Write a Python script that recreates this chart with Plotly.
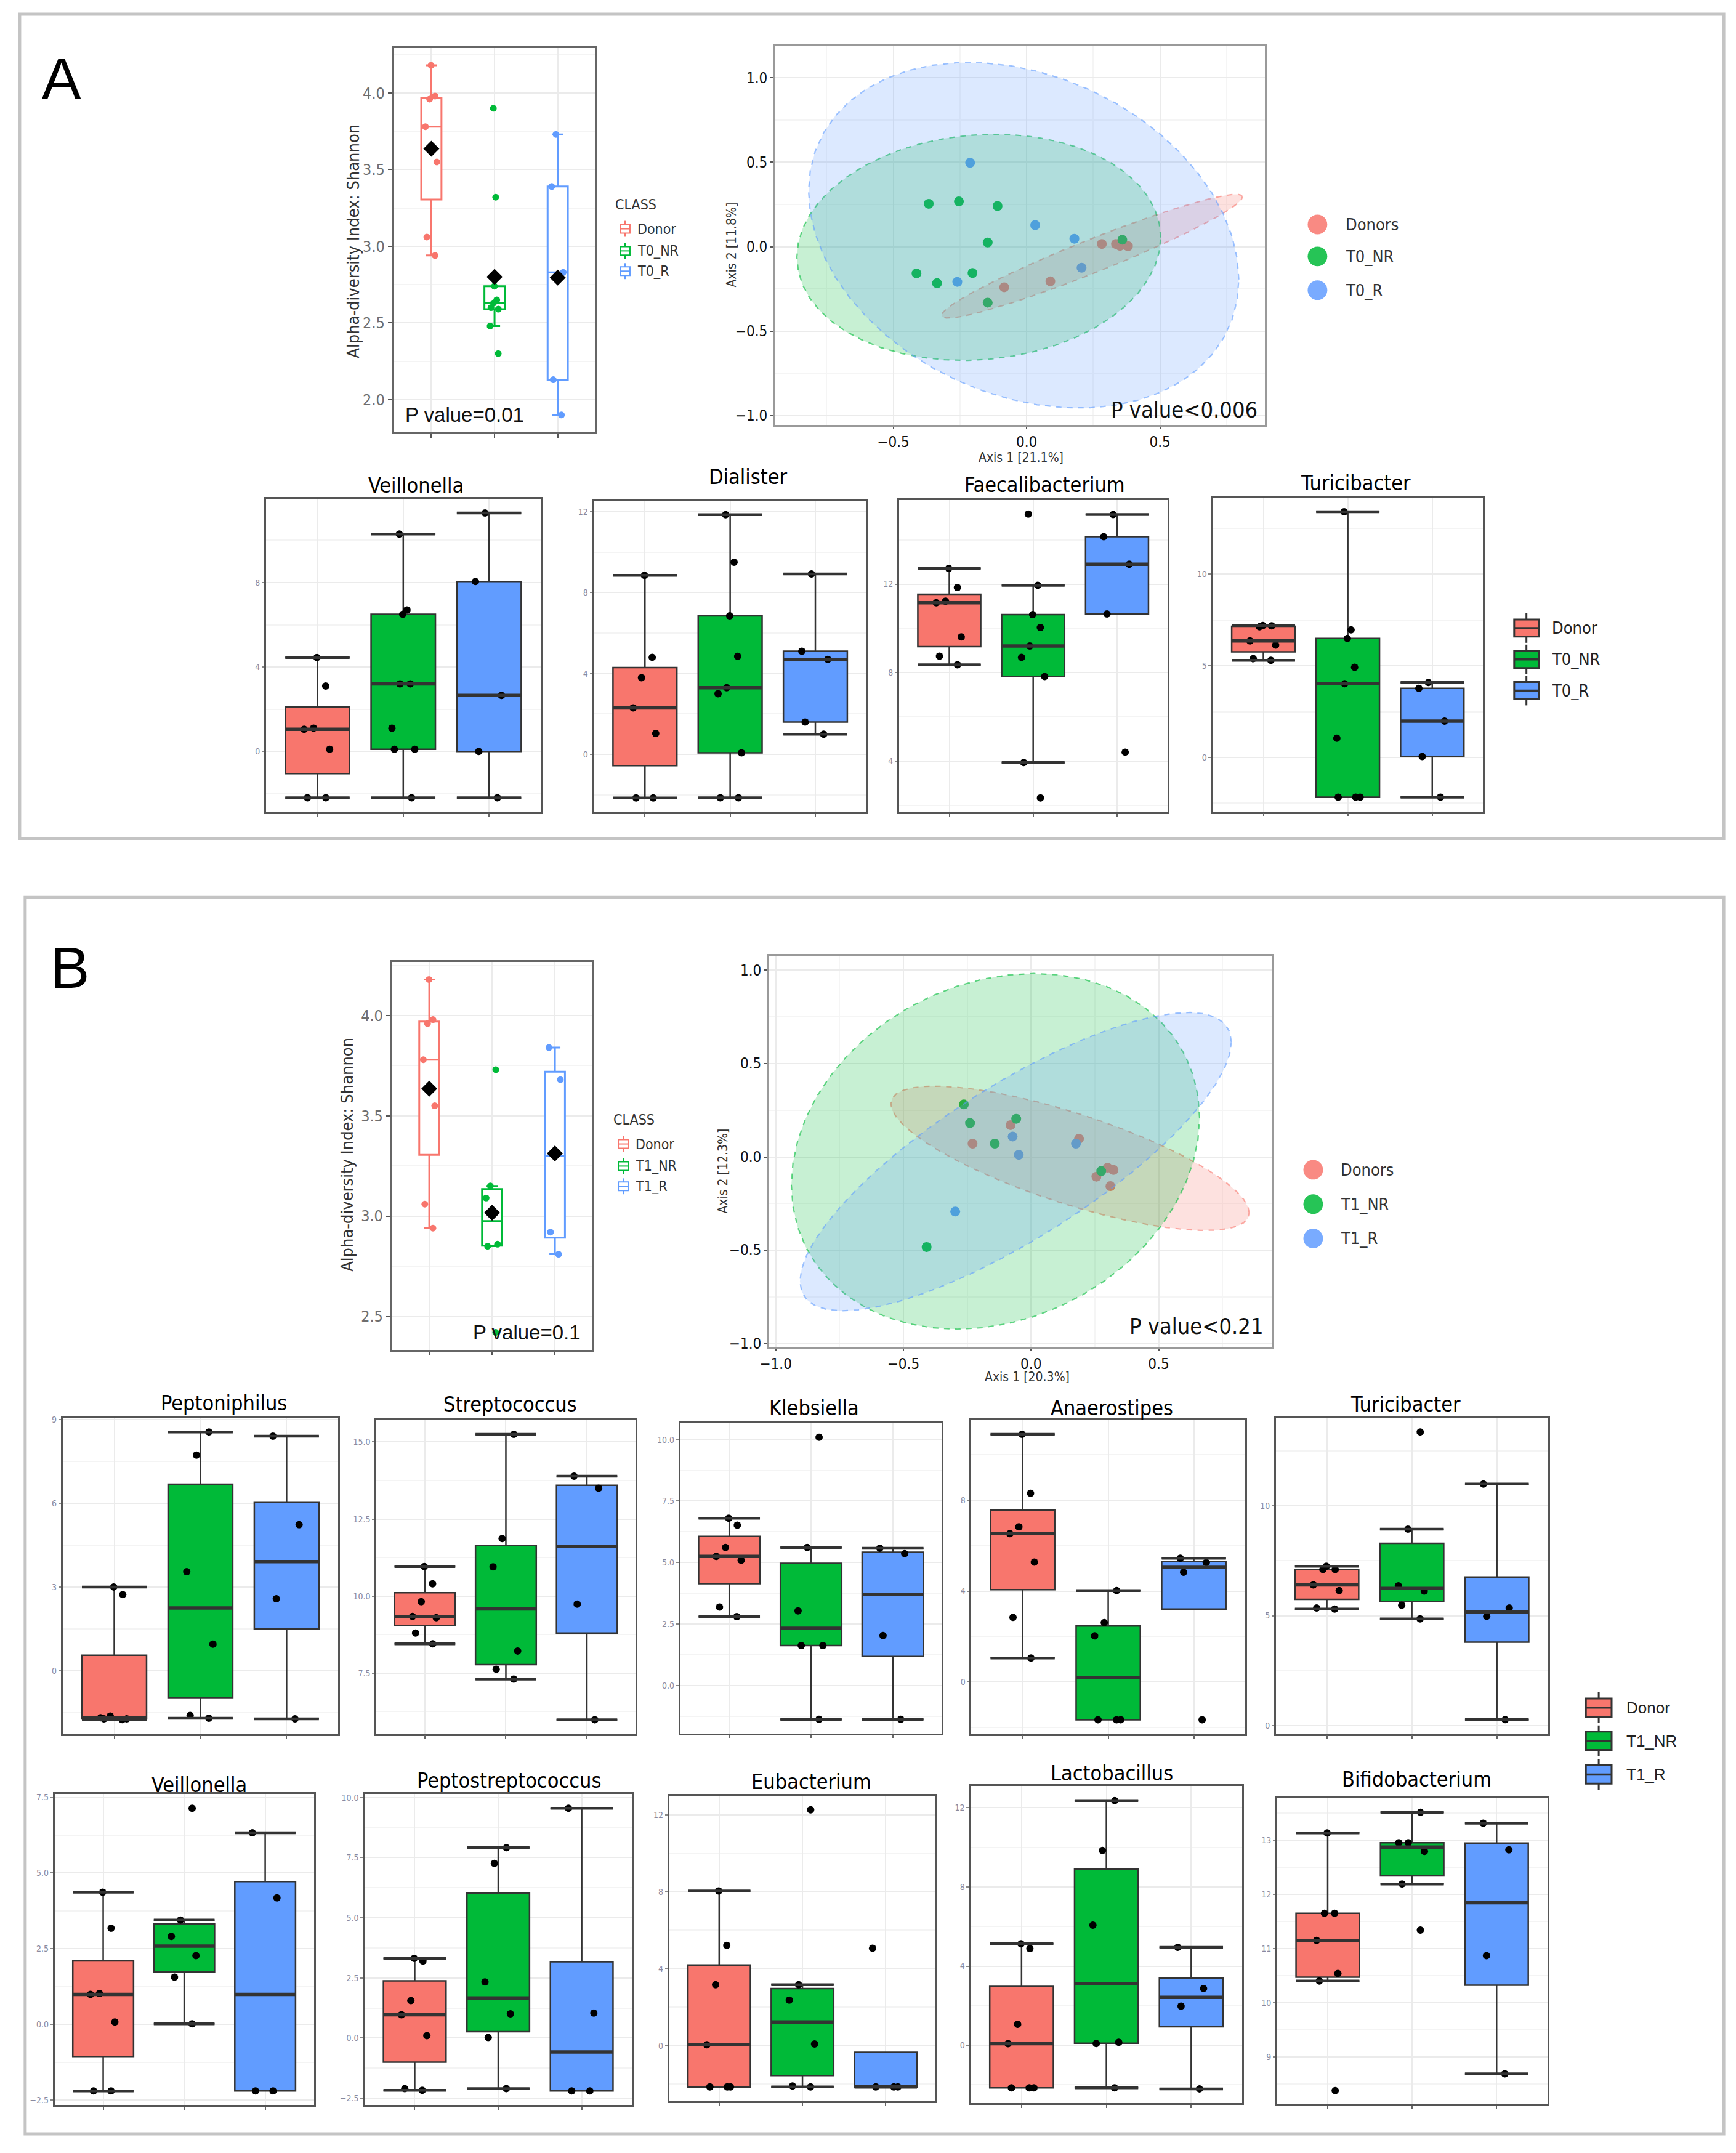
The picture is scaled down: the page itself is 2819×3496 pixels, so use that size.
import numpy as np
import plotly.graph_objects as go

W, H = 2819, 3496
FONT_N = "Liberation Sans Narrow, DejaVu Sans Condensed, Arial Narrow, sans-serif"
FONT_R = "Liberation Sans, Arial, Helvetica, sans-serif"
GROUP_COLORS = ["#F8766D", "#00BA38", "#619CFF"]
GROUP_RGB = [(248, 118, 109), (0, 186, 56), (97, 156, 255)]

# ============================ DATA ============================
groups_A = ["Donor", "T0_NR", "T0_R"]
groups_B = ["Donor", "T1_NR", "T1_R"]
pcoa_groups_A = ["Donors", "T0_NR", "T0_R"]
pcoa_groups_B = ["Donors", "T1_NR", "T1_R"]

# Shannon alpha diversity
shannon_A_donor = [4.18, 3.98, 3.96, 3.78, 3.55, 3.06, 2.94]
shannon_A_t0nr = [3.90, 3.32, 2.74, 2.65, 2.63, 2.60, 2.59, 2.48, 2.30]
shannon_A_t0r = [3.73, 3.39, 2.83, 2.13, 1.90]
shannon_B_donor = [4.18, 3.98, 3.96, 3.78, 3.55, 3.06, 2.94]
shannon_B_t1nr = [3.73, 3.15, 3.09, 2.86, 2.85, 2.42]
shannon_B_t1r = [3.84, 3.68, 2.92, 2.81]
alpha_ytitle = "Alpha-diversity Index: Shannon"
alpha_p_A = "P value=0.01"
alpha_p_B = "P value=0.1"

# PCoA coordinates
pcoa_A_axis_titles = ["Axis 1 [21.1%]", "Axis 2 [11.8%]"]
pcoa_A_donor_x = [0.282, -0.084, 0.089, 0.335, 0.350, 0.365, 0.380]
pcoa_A_donor_y = [0.016, -0.240, -0.205, 0.016, 0.005, 0.012, 0.003]
pcoa_A_t0nr_x = [-0.367, -0.254, -0.109, -0.146, -0.413, -0.336, -0.203, -0.146, 0.359]
pcoa_A_t0nr_y = [0.254, 0.268, 0.241, 0.025, -0.158, -0.216, -0.156, -0.331, 0.041]
pcoa_A_t0r_x = [-0.212, 0.032, 0.179, 0.206, -0.260]
pcoa_A_t0r_y = [0.497, 0.128, 0.047, -0.125, -0.208]
pcoa_p_A = "P value<0.006"

pcoa_B_axis_titles = ["Axis 1 [20.3%]", "Axis 2 [12.3%]"]
pcoa_B_donor_x = [-0.229, -0.080, 0.188, 0.256, 0.300, 0.323, 0.311]
pcoa_B_donor_y = [0.071, 0.170, 0.097, -0.106, -0.058, -0.070, -0.157]
pcoa_B_t1nr_x = [-0.263, -0.239, -0.058, -0.142, 0.275, -0.409]
pcoa_B_t1nr_y = [0.281, 0.181, 0.204, 0.071, -0.076, -0.483]
pcoa_B_t1r_x = [-0.072, -0.048, 0.176, -0.297]
pcoa_B_t1r_y = [0.109, 0.011, 0.071, -0.293]
pcoa_p_B = "P value<0.21"

# Genus abundance (panel A: Donor / T0_NR / T0_R)
genus_A_titles = ["Veillonella", "Dialister", "Faecalibacterium", "Turicibacter"]
veillonella_A = {"Donor": [4.45, 3.10, 1.10, 1.05, 0.10, -2.20, -2.20],
                 "T0_NR": [10.30, 6.70, 6.50, 3.20, 3.20, 1.10, 0.10, 0.10, -2.20],
                 "T0_R": [11.30, 8.05, 2.65, 0.00, -2.20]}
dialister_A = {"Donor": [8.85, 4.80, 3.79, 2.30, 1.04, -2.15, -2.15],
               "T0_NR": [11.85, 9.50, 6.85, 4.85, 3.30, 3.00, 0.08, -2.14, -2.14],
               "T0_R": [8.92, 5.10, 4.70, 1.60, 1.00]}
faecalibacterium_A = {"Donor": [12.71, 11.85, 11.23, 11.16, 9.61, 8.74, 8.35],
                      "T0_NR": [15.17, 11.95, 10.62, 10.04, 9.20, 8.69, 7.82, 3.93, 2.33],
                      "T0_R": [15.15, 14.15, 12.90, 10.65, 4.40]}
turicibacter_A = {"Donor": [7.20, 7.18, 7.13, 6.36, 6.13, 5.39, 5.30],
                  "T0_NR": [13.41, 6.96, 6.49, 4.92, 4.02, 1.05, -2.17, -2.17, -2.17],
                  "T0_R": [4.09, 3.77, 1.98, 0.05, -2.17]}
genus_A_data = [veillonella_A, dialister_A, faecalibacterium_A, turicibacter_A]

# Genus abundance (panel B: Donor / T1_NR / T1_R)
genus_B_titles = ["Peptoniphilus", "Streptococcus", "Klebsiella", "Anaerostipes", "Turicibacter",
                  "Veillonella", "Peptostreptococcus", "Eubacterium", "Lactobacillus", "Bifidobacterium"]
peptoniphilus_B = {"Donor": [3.00, 2.73, -1.62, -1.68, -1.72, -1.72, -1.75],
                   "T1_NR": [8.55, 7.72, 3.55, 0.95, -1.60, -1.70],
                   "T1_R": [8.40, 5.23, 2.58, -1.72]}
streptococcus_B = {"Donor": [10.96, 10.40, 9.82, 9.34, 9.30, 8.80, 8.45],
                   "T1_NR": [15.25, 11.87, 10.95, 8.22, 7.63, 7.31],
                   "T1_R": [13.89, 13.50, 9.74, 5.99]}
klebsiella_B = {"Donor": [6.80, 6.52, 5.61, 5.25, 5.09, 3.19, 2.80],
                "T1_NR": [10.10, 5.61, 3.03, 1.62, 1.62, -1.38],
                "T1_R": [5.58, 5.36, 2.03, -1.38]}
anaerostipes_B = {"Donor": [10.91, 8.31, 6.83, 6.53, 5.28, 2.84, 1.05],
                  "T1_NR": [4.02, 2.61, 2.03, -1.67, -1.67, -1.67],
                  "T1_R": [5.45, 5.26, 4.83, -1.67]}
turicibacter_B = {"Donor": [7.25, 7.10, 7.10, 6.40, 6.14, 5.35, 5.30],
                  "T1_NR": [13.36, 8.94, 6.36, 6.12, 5.48, 4.85],
                  "T1_R": [10.99, 5.35, 4.97, 0.27]}
veillonella_B = {"Donor": [4.37, 3.18, 1.02, 0.99, 0.08, -2.20, -2.20],
                 "T1_NR": [7.14, 3.45, 2.91, 2.27, 1.56, 0.02],
                 "T1_R": [6.33, 4.18, -2.20, -2.20]}
peptostreptococcus_B = {"Donor": [3.31, 3.20, 1.56, 0.97, 0.10, -2.10, -2.17],
                        "T1_NR": [7.91, 7.26, 2.33, 1.01, 0.02, -2.10],
                        "T1_R": [9.55, 1.04, -2.20, -2.20]}
eubacterium_B = {"Donor": [8.05, 5.22, 3.17, 0.05, -2.15, -2.15, -2.15],
                 "T1_NR": [12.27, 3.17, 2.37, 0.09, -2.10, -2.15],
                 "T1_R": [5.07, -2.15, -2.15, -2.15]}
lactobacillus_B = {"Donor": [5.13, 4.89, 1.06, 0.08, -2.15, -2.15, -2.15],
                   "T1_NR": [12.36, 9.84, 6.07, 0.15, 0.09, -2.15],
                   "T1_R": [4.95, 2.87, 1.98, -2.20]}
bifidobacterium_B = {"Donor": [13.13, 11.65, 11.65, 11.15, 10.54, 10.40, 8.38],
                     "T1_NR": [13.51, 12.95, 12.95, 12.79, 12.19, 11.34],
                     "T1_R": [13.31, 12.82, 10.87, 8.69]}
genus_B_data = [peptoniphilus_B, streptococcus_B, klebsiella_B, anaerostipes_B, turicibacter_B,
                veillonella_B, peptostreptococcus_B, eubacterium_B, lactobacillus_B, bifidobacterium_B]

# ============================ LAYOUT (pixels) ============================
genus_A_dtick = [4, 4, 4, 5]
genus_A_fmt = ["", "", "", ""]
genus_B_dtick = [3, 2.5, 2.5, 4, 5, 2.5, 2.5, 4, 4, 1]
genus_B_fmt = ["", ".1f", ".1f", "", "", ".1f", ".1f", "", "", ""]

alpha_A_frame = (628, 73, 958, 700)
alpha_B_frame = (625, 1563, 953, 2196)
pcoa_A_frame = (1250, 69, 2050, 688)
pcoa_B_frame = (1240, 1553, 2062, 2191)
genus_A_frames = [(420, 808, 868, 1319), (955, 811, 1400, 1319),
                  (1453, 810, 1891, 1319), (1965, 806, 2406, 1318)]
genus_A_tpos = [(665, 786), (1207, 772), (1691, 785), (2198, 782)]
genus_B_frames = [(88, 2306, 538, 2822), (600, 2310, 1023, 2822), (1096, 2315, 1523, 2821),
                  (1571, 2310, 2018, 2822), (2068, 2306, 2512, 2822),
                  (75, 2920, 498, 3427), (581, 2920, 1017, 3427), (1078, 2923, 1513, 3420),
                  (1570, 2907, 2013, 3424), (2070, 2927, 2511, 3426)]
genus_B_tpos = [(351, 2282), (819, 2284), (1315, 2290), (1800, 2290), (2280, 2284),
                (311, 2905), (817, 2898), (1310, 2900), (1800, 2886), (2298, 2896)]

BOXW = 0.75
ALPHA_BOXW = 0.32

fig = go.Figure()
layout_axes = {}
annotations = []
shapes = []


def PX(x):
    return x / W


def PY(y):
    return 1 - y / H


def refs(i):
    return ("x" if i == 1 else f"x{i}", "y" if i == 1 else f"y{i}",
            "xaxis" if i == 1 else f"xaxis{i}", "yaxis" if i == 1 else f"yaxis{i}")


def set_axes(i, frame, xcfg, ycfg):
    xa, ya, xk, yk = refs(i)
    x0, y0, x1, y1 = frame
    xcfg.update(domain=[PX(x0), PX(x1)], anchor=ya)
    ycfg.update(domain=[PY(y1), PY(y0)], anchor=xa)
    layout_axes[xk] = xcfg
    layout_axes[yk] = ycfg


def text(x, y, s, size, family=FONT_N, color="#000000", xanchor="center", yanchor="middle", angle=0):
    annotations.append(dict(x=PX(x), y=PY(y), xref="paper", yref="paper", text=s, showarrow=False,
                            xanchor=xanchor, yanchor=yanchor, textangle=angle,
                            font=dict(size=size, family=family, color=color)))


def rect(x0, y0, x1, y1, line_color, width, fill="rgba(0,0,0,0)"):
    shapes.append(dict(type="rect", xref="paper", yref="paper", x0=PX(x0), x1=PX(x1),
                       y0=PY(y1), y1=PY(y0), line=dict(color=line_color, width=width), fillcolor=fill))


def seg(x0, y0, x1, y1, color, width):
    shapes.append(dict(type="line", xref="paper", yref="paper", x0=PX(x0), x1=PX(x1),
                       y0=PY(y0), y1=PY(y1), line=dict(color=color, width=width)))


def box_stats(v):
    q1, med, q3 = np.percentile(v, [25, 50, 75])
    iqr = q3 - q1
    keep = v[(v >= q1 - 1.5 * iqr) & (v <= q3 + 1.5 * iqr)]
    return q1, med, q3, min(keep.min(), q1), max(keep.max(), q3)


def expanded(values, frac=0.05):
    lo, hi = float(np.min(values)), float(np.max(values))
    pad = frac * (hi - lo)
    return [lo - pad, hi + pad]


# --------------------------- genus boxplots ---------------------------
def add_genus(i, frame, title, tpos, data, groups, dtick, fmt):
    xa, ya, _, _ = refs(i)
    vals = [np.asarray(data[g], float) for g in groups]
    mx, my, cx, cy = [], [], [], []
    for k, v in enumerate(vals):
        q1, med, q3, wlo, whi = box_stats(v)
        fig.add_trace(go.Box(x=[k], q1=[q1], median=[med], q3=[q3], lowerfence=[wlo], upperfence=[whi],
                             orientation="v", width=BOXW, whiskerwidth=1.0, fillcolor=GROUP_COLORS[k],
                             line=dict(color="#333333", width=2.5), boxpoints=False,
                             xaxis=xa, yaxis=ya, hoverinfo="skip", showlegend=False))
        mx += [k - BOXW / 2, k + BOXW / 2, None]
        my += [med, med, None]
        if wlo < q1:
            cx += [k - BOXW / 2, k + BOXW / 2, None]
            cy += [wlo, wlo, None]
        if whi > q3:
            cx += [k - BOXW / 2, k + BOXW / 2, None]
            cy += [whi, whi, None]
    for k, v in enumerate(vals):
        fig.add_trace(go.Box(x=[k] * len(v), y=v, orientation="v", width=BOXW, boxpoints="all",
                             jitter=0.5, pointpos=0, fillcolor="rgba(0,0,0,0)",
                             line=dict(color="rgba(0,0,0,0)", width=0),
                             marker=dict(color="#000000", size=12),
                             xaxis=xa, yaxis=ya, hoverinfo="skip", showlegend=False))
    fig.add_trace(go.Scatter(x=cx, y=cy, mode="lines", line=dict(color="#333333", width=4.5),
                             xaxis=xa, yaxis=ya, hoverinfo="skip", showlegend=False))
    fig.add_trace(go.Scatter(x=mx, y=my, mode="lines", line=dict(color="#333333", width=5.5),
                             xaxis=xa, yaxis=ya, hoverinfo="skip", showlegend=False))
    allv = np.concatenate(vals)
    xcfg = dict(range=[-0.6, 2.6], tickvals=[0, 1, 2], showticklabels=False, ticks="outside",
                ticklen=5, tickwidth=1.5, tickcolor="#666666", showgrid=True, gridcolor="#EBEBEB",
                gridwidth=2, zeroline=False, showline=True, mirror=True, linecolor="#555555",
                linewidth=2.5, fixedrange=True)
    ycfg = dict(range=expanded(allv), tick0=0, dtick=dtick, tickformat=fmt, ticks="outside",
                ticklen=4, tickwidth=1.5, tickcolor="#888888",
                tickfont=dict(size=14, color="#8A8AA0", family=FONT_N),
                showgrid=True, gridcolor="#EBEBEB", gridwidth=2,
                minor=dict(tick0=0, dtick=dtick / 2, showgrid=True, gridcolor="#F4F4F4", gridwidth=1.5),
                zeroline=False, showline=True, mirror=True, linecolor="#555555", linewidth=2.5,
                fixedrange=True)
    set_axes(i, frame, xcfg, ycfg)
    text(tpos[0], tpos[1], title, 34, FONT_N, "#000000")


# --------------------------- alpha diversity ---------------------------
def add_alpha(i, frame, vals_list, ptext, ppos, ytitle_pos):
    xa, ya, _, _ = refs(i)
    vals = [np.asarray(v, float) for v in vals_list]
    for k, v in enumerate(vals):
        q1, med, q3, wlo, whi = box_stats(v)
        fig.add_trace(go.Box(x=[k], q1=[q1], median=[med], q3=[q3], lowerfence=[wlo], upperfence=[whi],
                             orientation="v", width=ALPHA_BOXW, whiskerwidth=0.55, fillcolor="#FFFFFF",
                             line=dict(color=GROUP_COLORS[k], width=3), boxpoints=False,
                             xaxis=xa, yaxis=ya, hoverinfo="skip", showlegend=False))
    for k, v in enumerate(vals):
        fig.add_trace(go.Box(x=[k] * len(v), y=v, orientation="v", width=ALPHA_BOXW, boxpoints="all",
                             jitter=0.7, pointpos=0, fillcolor="rgba(0,0,0,0)",
                             line=dict(color="rgba(0,0,0,0)", width=0),
                             marker=dict(color=GROUP_COLORS[k], size=11),
                             xaxis=xa, yaxis=ya, hoverinfo="skip", showlegend=False))
    fig.add_trace(go.Scatter(x=list(range(len(vals))), y=[float(np.mean(v)) for v in vals], mode="markers",
                             marker=dict(symbol="diamond", size=20, color="#000000"),
                             xaxis=xa, yaxis=ya, hoverinfo="skip", showlegend=False))
    allv = np.concatenate(vals)
    xcfg = dict(range=[-0.6, 2.6], tickvals=[0, 1, 2], showticklabels=False, ticks="outside",
                ticklen=6, tickwidth=2, tickcolor="#555555", showgrid=True, gridcolor="#EBEBEB",
                gridwidth=2, zeroline=False, showline=True, mirror=True, linecolor="#666666",
                linewidth=3, fixedrange=True)
    ycfg = dict(range=expanded(allv), tick0=0, dtick=0.5, tickformat=".1f", ticks="outside",
                ticklen=6, tickwidth=2, tickcolor="#555555",
                tickfont=dict(size=25, color="#6E6E6E", family=FONT_N),
                showgrid=True, gridcolor="#EBEBEB", gridwidth=2,
                minor=dict(tick0=0, dtick=0.25, showgrid=True, gridcolor="#F4F4F4", gridwidth=1.5),
                zeroline=False, showline=True, mirror=True, linecolor="#666666", linewidth=3,
                fixedrange=True)
    set_axes(i, frame, xcfg, ycfg)
    text(ytitle_pos[0], ytitle_pos[1], alpha_ytitle, 27, FONT_N, "#333333", angle=-90)
    text(ppos[0], ppos[1], ptext, 33, FONT_R, "#111111")


# --------------------------- PCoA ---------------------------
def ellipse(x, y, level=0.95, segments=51):
    pts = np.column_stack([x, y])
    n = len(pts)
    center = pts.mean(axis=0)
    cov = np.cov(pts.T)
    dfd = n - 1
    fq = (dfd / 2.0) * ((1 - level) ** (-2.0 / dfd) - 1)  # F(2, n-1) quantile
    radius = np.sqrt(2 * fq)
    t = np.linspace(0, 2 * np.pi, segments)
    circle = np.column_stack([np.cos(t), np.sin(t)])
    e = center + radius * circle @ np.linalg.cholesky(cov).T
    return e[:, 0], e[:, 1]


def add_pcoa(i, frame, xs, ys, axis_titles, ptext, ppos, xt_pos, yt_pos):
    xa, ya, _, _ = refs(i)
    allx, ally = [], []
    for k in range(3):
        fig.add_trace(go.Scatter(x=xs[k], y=ys[k], mode="markers",
                                 marker=dict(size=16, color=GROUP_COLORS[k]),
                                 xaxis=xa, yaxis=ya, hoverinfo="skip", showlegend=False))
        allx += list(xs[k])
        ally += list(ys[k])
    for k in range(3):
        ex, ey = ellipse(np.asarray(xs[k], float), np.asarray(ys[k], float))
        r, g, b = GROUP_RGB[k]
        fig.add_trace(go.Scatter(x=ex, y=ey, mode="lines", fill="toself",
                                 fillcolor=f"rgba({r},{g},{b},0.22)",
                                 line=dict(color=f"rgba({r},{g},{b},0.6)", width=2.2, dash="dash"),
                                 xaxis=xa, yaxis=ya, hoverinfo="skip", showlegend=False))
        allx += list(ex)
        ally += list(ey)
    common = dict(tick0=0, dtick=0.5, tickformat=".1f", ticks="outside", ticklen=4, tickwidth=2,
                  tickcolor="#555555", tickfont=dict(size=24, color="#111111", family=FONT_N),
                  showgrid=True, gridcolor="#EBEBEB", gridwidth=2,
                  minor=dict(tick0=0, dtick=0.25, showgrid=True, gridcolor="#F5F5F5", gridwidth=1.5),
                  zeroline=False, showline=True, mirror=True, linecolor="#9A9A9A", linewidth=2.5,
                  fixedrange=True)
    xcfg = dict(common, range=expanded(allx))
    ycfg = dict(common, range=expanded(ally))
    set_axes(i, frame, xcfg, ycfg)
    text(xt_pos[0], xt_pos[1], axis_titles[0], 21, FONT_N, "#333333")
    text(yt_pos[0], yt_pos[1], axis_titles[1], 21, FONT_N, "#333333", angle=-90)
    text(ppos[0], ppos[1], ptext, 36, FONT_N, "#111111", xanchor="right")


# --------------------------- legends ---------------------------
def legend_alpha(title_xy, glyph_x, text_x, rows, labels):
    text(title_xy[0], title_xy[1], "CLASS", 23, FONT_N, "#333333", xanchor="left")
    for k, (yy, lab) in enumerate(zip(rows, labels)):
        c = GROUP_COLORS[k]
        seg(glyph_x, yy - 13, glyph_x, yy + 13, c, 2)
        rect(glyph_x - 8, yy - 7, glyph_x + 8, yy + 7, c, 2, "#FFFFFF")
        seg(glyph_x - 8, yy, glyph_x + 8, yy, c, 2)
        text(text_x, yy, lab, 23, FONT_N, "#333333", xanchor="left")


def legend_pcoa(cx, text_x, rows, labels, d=32):
    for k, (yy, lab) in enumerate(zip(rows, labels)):
        shapes.append(dict(type="circle", xref="paper", yref="paper", x0=PX(cx - d / 2), x1=PX(cx + d / 2),
                           y0=PY(yy + d / 2), y1=PY(yy - d / 2), fillcolor=GROUP_COLORS[k],
                           line=dict(width=0), opacity=0.85))
        text(text_x, yy, lab, 27, FONT_N, "#333333", xanchor="left")


def legend_genus(x0, x1, text_x, rows, labels, h, size, family):
    xc = (x0 + x1) / 2
    for k, (yy, lab) in enumerate(zip(rows, labels)):
        seg(xc, yy - h / 2 - 10, xc, yy + h / 2 + 10, "#333333", 3)
        rect(x0, yy - h / 2, x1, yy + h / 2, "#333333", 3, GROUP_COLORS[k])
        seg(x0, yy, x1, yy, "#333333", 3.5)
        text(text_x, yy, lab, size, family, "#222222", xanchor="left")


# ============================ BUILD ============================
idx = 1
add_alpha(idx, alpha_A_frame, [shannon_A_donor, shannon_A_t0nr, shannon_A_t0r],
          alpha_p_A, (744, 671), (562, 388))
idx += 1
add_pcoa(idx, pcoa_A_frame, [pcoa_A_donor_x, pcoa_A_t0nr_x, pcoa_A_t0r_x],
         [pcoa_A_donor_y, pcoa_A_t0nr_y, pcoa_A_t0r_y], pcoa_A_axis_titles, pcoa_p_A,
         (2040, 663), (1652, 741), (1180, 394))
idx += 1
for gi in range(4):
    add_genus(idx, genus_A_frames[gi], genus_A_titles[gi], genus_A_tpos[gi], genus_A_data[gi],
              groups_A, genus_A_dtick[gi], genus_A_fmt[gi])
    idx += 1

add_alpha(idx, alpha_B_frame, [shannon_B_donor, shannon_B_t1nr, shannon_B_t1r],
          alpha_p_B, (846, 2167), (552, 1877))
idx += 1
add_pcoa(idx, pcoa_B_frame, [pcoa_B_donor_x, pcoa_B_t1nr_x, pcoa_B_t1r_x],
         [pcoa_B_donor_y, pcoa_B_t1nr_y, pcoa_B_t1r_y], pcoa_B_axis_titles, pcoa_p_B,
         (2050, 2157), (1662, 2240), (1166, 1904))
idx += 1
for gi in range(10):
    add_genus(idx, genus_B_frames[gi], genus_B_titles[gi], genus_B_tpos[gi], genus_B_data[gi],
              groups_B, genus_B_dtick[gi], genus_B_fmt[gi])
    idx += 1

# legends
legend_alpha((988, 328), 1006, 1024, [368, 404, 437], groups_A)
legend_alpha((985, 1820), 1003, 1021, [1860, 1896, 1929], groups_B)
legend_pcoa(2136, 2180, [361, 413, 468], pcoa_groups_A)
legend_pcoa(2129, 2172, [1902, 1958, 2014], pcoa_groups_B)
legend_genus(2457, 2497, 2517, [1019, 1070, 1121], groups_A, 28, 27, FONT_N)
legend_genus(2574, 2616, 2638, [2779, 2833, 2888], groups_B, 30, 26, FONT_R)

# panel frames and letters
rect(18, 18, 2799, 1362, "#C4C4C4", 5)
rect(27, 1458, 2799, 3474, "#C4C4C4", 5)
text(86, 122, "A", 95, FONT_R, "#000000")
text(100, 1572, "B", 95, FONT_R, "#000000")

fig.update_layout(width=W, height=H, margin=dict(l=0, r=0, t=0, b=0, pad=0),
                  paper_bgcolor="#FFFFFF", plot_bgcolor="#FFFFFF", showlegend=False,
                  hovermode=False, boxmode="overlay", annotations=annotations, shapes=shapes,
                  font=dict(family=FONT_N), **layout_axes)

fig.write_html("out.html", config={"displayModeBar": False},
               post_script="document.body.style.margin='0px';")
